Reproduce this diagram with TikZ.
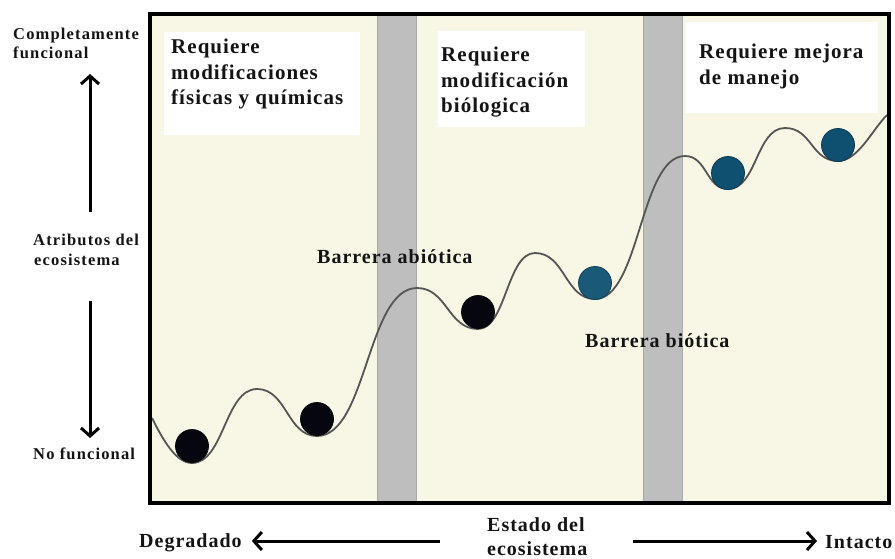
\documentclass[tikz,border=0pt]{standalone}
\usepackage{fontspec}
\setmainfont{Liberation Serif}
\newfontfamily\lsfont{Liberation Serif}[LetterSpace=5]
\newfontfamily\lswide{Liberation Serif}[LetterSpace=7]
\usetikzlibrary{arrows.meta}
\definecolor{cream}{HTML}{F8F6E5}
\definecolor{bargray}{HTML}{BEBEBE}
\definecolor{baredge}{HTML}{A8A8A8}
\definecolor{ballblack}{HTML}{06060E}
\definecolor{ballteal}{HTML}{0F5070}
\definecolor{balltealB}{HTML}{1A5A78}
\definecolor{curvegray}{HTML}{555555}
\definecolor{txt}{HTML}{141414}
\tikzset{
  paneltxt/.style={font=\lsfont\bfseries\fontsize{21}{26}\selectfont, text=txt, anchor=base west, inner sep=0pt},
  sidetxt/.style={font=\lswide\bfseries\fontsize{16.5}{20}\selectfont, text=txt, anchor=base west, inner sep=0pt},
  bottxt/.style={font=\lsfont\bfseries\fontsize{20}{25}\selectfont, text=txt, anchor=base west, inner sep=0pt},
  bartxt/.style={font=\lsfont\bfseries\fontsize{20}{25}\selectfont, text=txt, anchor=base west, inner sep=0pt},
  barrier/.style={fill=bargray, draw=baredge, line width=1pt},
  whitebox/.style={fill=white, draw=none},
  landscape/.style={draw=curvegray, line width=1.8pt},
  ball/.style={circle, minimum size=33pt, inner sep=0pt, draw=#1!70!black, line width=0.8pt, fill=#1},
  axisarrow/.style={line width=3pt, -{Straight Barb[length=8pt,width=18pt,line width=3pt]}}
}
\begin{document}
\begin{tikzpicture}[x=1pt,y=-1pt]
\useasboundingbox (0,0) rectangle (895,558);
% panel background
\fill[cream] (150,14) rectangle (889,503);
% barriers
\draw[barrier] (377,14) rectangle (416,503);
\draw[barrier] (643,14) rectangle (682,503);
% white label boxes
\fill[whitebox] (164,32) rectangle (360,135);
\fill[whitebox] (438,31) rectangle (585,127);
\fill[whitebox] (686,22) rectangle (878,113);
% landscape curve
\draw[landscape] (152,418) .. controls (163,440) and (176,463) .. (192,463)
 .. controls (224,463) and (225,389) .. (257,389)
 .. controls (287,389) and (287,436) .. (317,436)
 .. controls (367,436) and (367,288) .. (417,288)
 .. controls (447,288) and (448,329) .. (478,329)
 .. controls (506,329) and (507,253) .. (535,253)
 .. controls (565,253) and (565,299) .. (595,299)
 .. controls (640,299) and (640,156) .. (685,156)
 .. controls (707,156) and (706,189) .. (728,189)
 .. controls (757,189) and (756,128) .. (785,128)
 .. controls (812,128) and (811,161) .. (838,161)
 .. controls (858,161) and (872,130) .. (887,115);
% balls
\node[ball=ballblack] (b1) at (192,446) {};
\node[ball=ballblack] (b2) at (317,419) {};
\node[ball=ballblack] (b3) at (478,312) {};
\node[ball=balltealB] (b4) at (595,283) {};
\node[ball=ballteal] (b5) at (728,173) {};
\node[ball=ballteal] (b6) at (838,145) {};
% frame
\draw[line width=4pt] (150,14) rectangle (889,503);
% panel texts
\node[paneltxt] (p1a) at (171,53) {Requiere};
\node[paneltxt] (p1b) at (171,79) {modificaciones};
\node[paneltxt] (p1c) at (171,104.5) {físicas y químicas};
\node[paneltxt] (p2a) at (441,61) {Requiere};
\node[paneltxt] (p2b) at (441,87) {modificación};
\node[paneltxt] (p2c) at (441,112.5) {biólogica};
\node[paneltxt] (p3a) at (699,58) {Requiere mejora};
\node[paneltxt] (p3b) at (699,84) {de manejo};
% barrier labels
\node[bartxt] (ba) at (317,263) {Barrera abiótica};
\node[bartxt] (bb) at (585,347) {Barrera biótica};
% side labels
\node[sidetxt] (s1a) at (13,39) {Completamente};
\node[sidetxt] (s1b) at (13,58) {funcional};
\node[sidetxt] (s2a) at (33,245) {Atributos del};
\node[sidetxt] (s2b) at (34,265) {ecosistema};
\node[sidetxt] (s3) at (33,459) {No funcional};
\coordinate (upstart) at (90,212);
\coordinate (upend) at (90,74);
\coordinate (dnstart) at (90,301);
\coordinate (dnend) at (90,438);
\draw[axisarrow] (upstart) -- (upend);
\draw[axisarrow] (dnstart) -- (dnend);
% bottom labels
\node[bottxt] (deg) at (139,547) {Degradado};
\node[bottxt] (est1) at (487,531) {Estado del};
\node[bottxt] (est2) at (487,555.5) {ecosistema};
\node[bottxt] (int) at (825,548) {Intacto};
\coordinate (lstart) at (440,541);
\coordinate (rstart) at (633,541);
\draw[axisarrow] (lstart) -- ([xshift=10pt]deg.east |- lstart);
\draw[axisarrow] (rstart) -- ([xshift=-8pt]int.west |- rstart);
\end{tikzpicture}
\end{document}
